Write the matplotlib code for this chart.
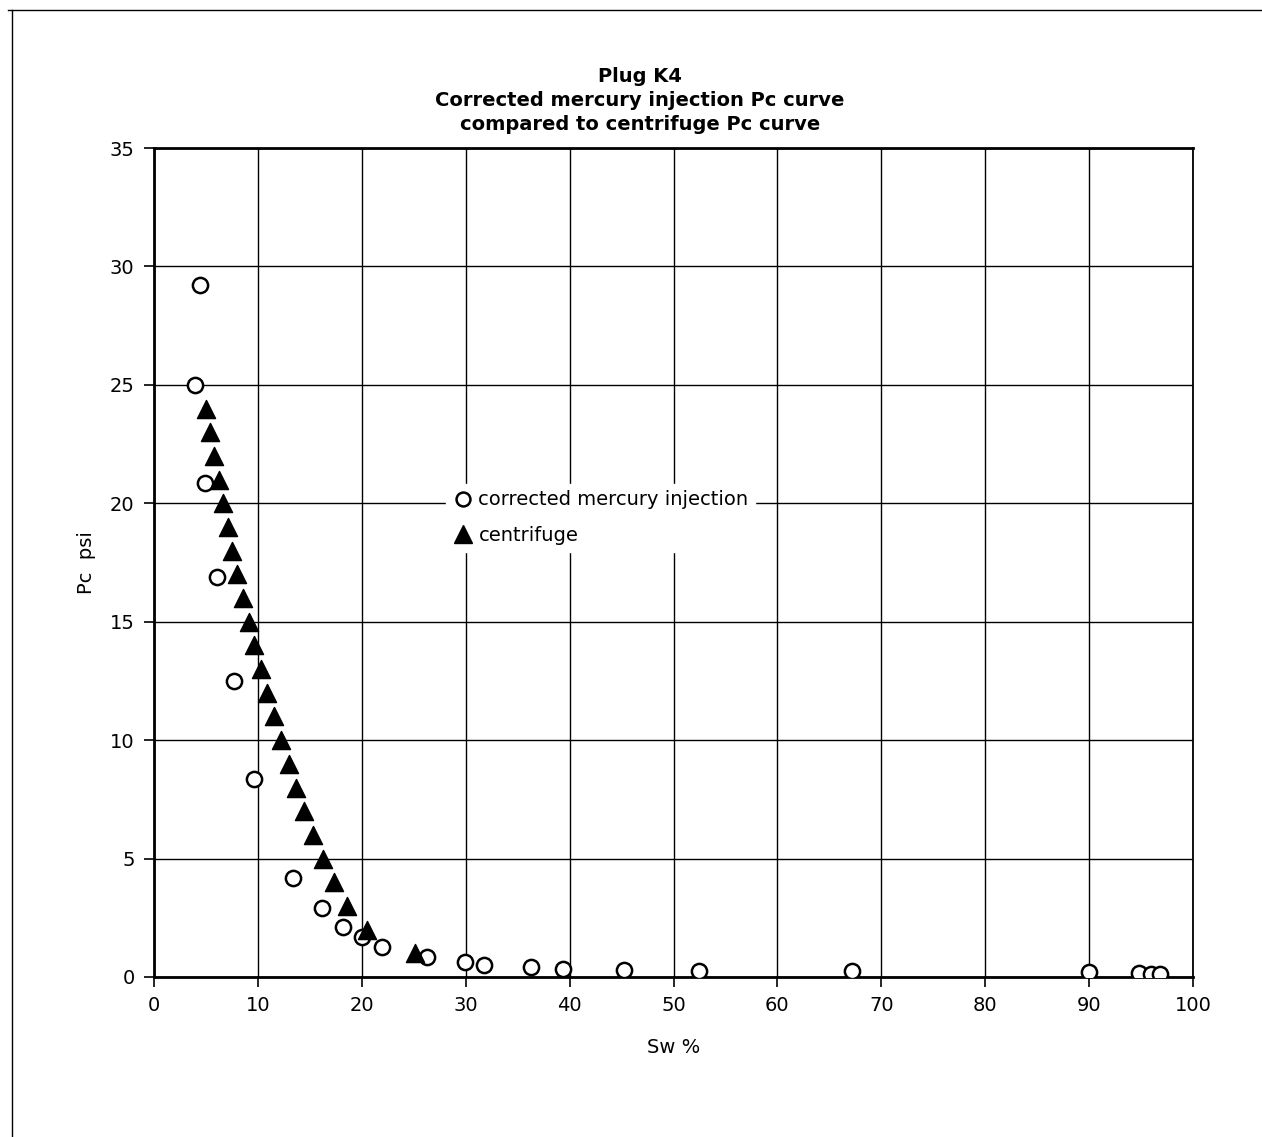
import numpy as np
import matplotlib.pyplot as plt
from matplotlib.lines import Line2D

plt.rcParams['font.family'] = ['DejaVu Sans']

# corrected mercury injection (open circles)
sw_hg = [4.4, 3.9, 4.9, 6.1, 7.7, 9.65, 13.4, 16.2, 18.15, 20.05, 21.9, 26.3,
         29.9, 31.8, 36.3, 39.35, 45.2, 52.5, 67.2, 90.0, 94.8, 96.0, 96.8]
pc_hg = [29.2, 25.0, 20.85, 16.9, 12.5, 8.35, 4.17, 2.9, 2.09, 1.68, 1.26, 0.85,
         0.64, 0.51, 0.42, 0.34, 0.31, 0.27, 0.24, 0.21, 0.17, 0.14, 0.11]

# centrifuge (filled triangles)
sw_cf = [4.97, 5.4, 5.8, 6.25, 6.67, 7.1, 7.54, 8.0, 8.53, 9.14, 9.65, 10.3,
         10.92, 11.58, 12.22, 12.96, 13.7, 14.47, 15.33, 16.3, 17.3, 18.6, 20.5, 25.1]
pc_cf = [24, 23, 22, 21, 20, 19, 18, 17, 16, 15, 14, 13,
         12, 11, 10, 9, 8, 7, 6, 5, 4, 3, 2, 1]

xticks = list(range(0, 101, 10))
yticks = list(range(0, 36, 5))

fig = plt.figure(figsize=(12.62, 11.37), dpi=100)
ax = fig.add_axes([154/1262, 1-977/1137, (1193-154)/1262, (977-148)/1137])

ax.scatter(sw_hg, pc_hg, s=120, facecolors='white', edgecolors='black',
           linewidths=1.8, zorder=3)
ax.scatter(sw_cf, pc_cf, s=170, marker='^', color='black', zorder=4)

ax.set_xlim(0, 100)
ax.set_ylim(0, 35)
ax.set_xticks(xticks)
ax.set_yticks(yticks)
ax.grid(True, color='black', linewidth=1.0)
ax.set_axisbelow(True)
ax.tick_params(direction='out', length=7, width=1.2, labelsize=14, pad=7)

for side in ['left', 'top', 'bottom']:
    ax.spines[side].set_linewidth(2.0)
ax.spines['right'].set_linewidth(1.3)

ax.set_xlabel('Sw %', fontsize=14, labelpad=16)
ax.set_ylabel('Pc  psi', fontsize=14, labelpad=10)

fig.text(0.507, 1-77/1137, 'Plug K4', ha='center', va='center',
         fontsize=14, fontweight='bold')
fig.text(0.507, 1-100/1137, 'Corrected mercury injection Pc curve', ha='center',
         va='center', fontsize=14, fontweight='bold')
fig.text(0.507, 1-124/1137, 'compared to centrifuge Pc curve', ha='center',
         va='center', fontsize=14, fontweight='bold')

handles = [
    Line2D([], [], linestyle='none', marker='o', markersize=10, markerfacecolor='white',
           markeredgecolor='black', markeredgewidth=1.8),
    Line2D([], [], linestyle='none', marker='^', markersize=13, color='black'),
]
leg = ax.legend(handles, ['corrected mercury injection', 'centrifuge'],
                loc='upper left', bbox_to_anchor=(0.272, 0.607), frameon=True,
                fontsize=14, handletextpad=0.3, handlelength=1.0,
                borderpad=0.35, labelspacing=0.85)
leg.get_frame().set_edgecolor('white')
leg.get_frame().set_facecolor('white')
leg.get_frame().set_alpha(1)
leg.get_frame().set_boxstyle('square', pad=0)

# outer frame of the page
fig.add_artist(Line2D([12/1262, 12/1262], [0, 1-10/1137], color='black', linewidth=1.0))
fig.add_artist(Line2D([8/1262, 1], [1-10/1137, 1-10/1137], color='black', linewidth=1.0))

plt.savefig('out.png', dpi=100)
